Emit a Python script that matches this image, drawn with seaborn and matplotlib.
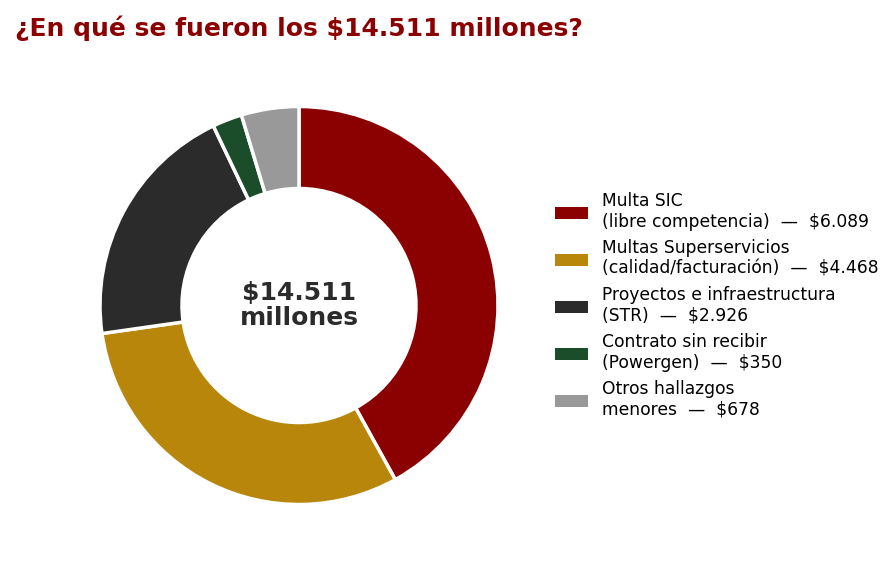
import matplotlib
matplotlib.use("Agg")
import matplotlib.pyplot as plt
from matplotlib.patches import Patch
import seaborn as sns

categories = ["Multa SIC\n(libre competencia)", "Multas Superservicios\n(calidad/facturación)",
              "Proyectos e infraestructura\n(STR)", "Contrato sin recibir\n(Powergen)",
              "Otros hallazgos\nmenores"]
values = [6089, 4468, 2926, 350, 678]
value_labels = ["$6.089", "$4.468", "$2.926", "$350", "$678"]
colors = ["#8B0000", "#B8860B", "#2B2B2B", "#1B4D2B", "#999999"]
title = "¿En qué se fueron los $14.511 millones?"
center_text = "$14.511\nmillones"

sns.set_theme(style="white")
plt.rcParams['font.family'] = ['DejaVu Sans']
plt.rcParams['text.color'] = 'black'

fig = plt.figure(figsize=(8.96, 5.70), dpi=100)
cx, cy = 299 / 896, 1 - 305.5 / 570
rw, rh = 200 / 896, 200 / 570
ax = fig.add_axes([cx - rw, cy - rh, 2 * rw, 2 * rh])

wedges, _ = ax.pie(values, colors=colors, startangle=90, counterclock=False,
                   radius=0.995, wedgeprops=dict(width=0.41, edgecolor="white", linewidth=2.5))
ax.set_xlim(-1, 1)
ax.set_ylim(-1, 1)
ax.set_aspect("equal")
ax.axis("off")

ax.text(0, 0, center_text, ha="center", va="center", fontsize=18, fontweight="bold",
        color="#2B2B2B", linespacing=1.05)

labels = [f"{c}  —  {v}" for c, v in zip(categories, value_labels)]
handles = [Patch(facecolor=c, edgecolor="none") for c in colors]
fig.legend(handles, labels, loc="center left", bbox_to_anchor=(0.6195 - 0.0095, cy), frameon=False,
           fontsize=12.3, handlelength=1.95, handleheight=0.7, labelspacing=0.48,
           handletextpad=0.8, borderpad=0, labelcolor="black")

fig.text(15 / 896, 1 - 28 / 570, title, ha="left", va="center", fontsize=18,
         fontweight="bold", color="#8B0000")

fig.savefig("out.png", dpi=100, facecolor="white")
